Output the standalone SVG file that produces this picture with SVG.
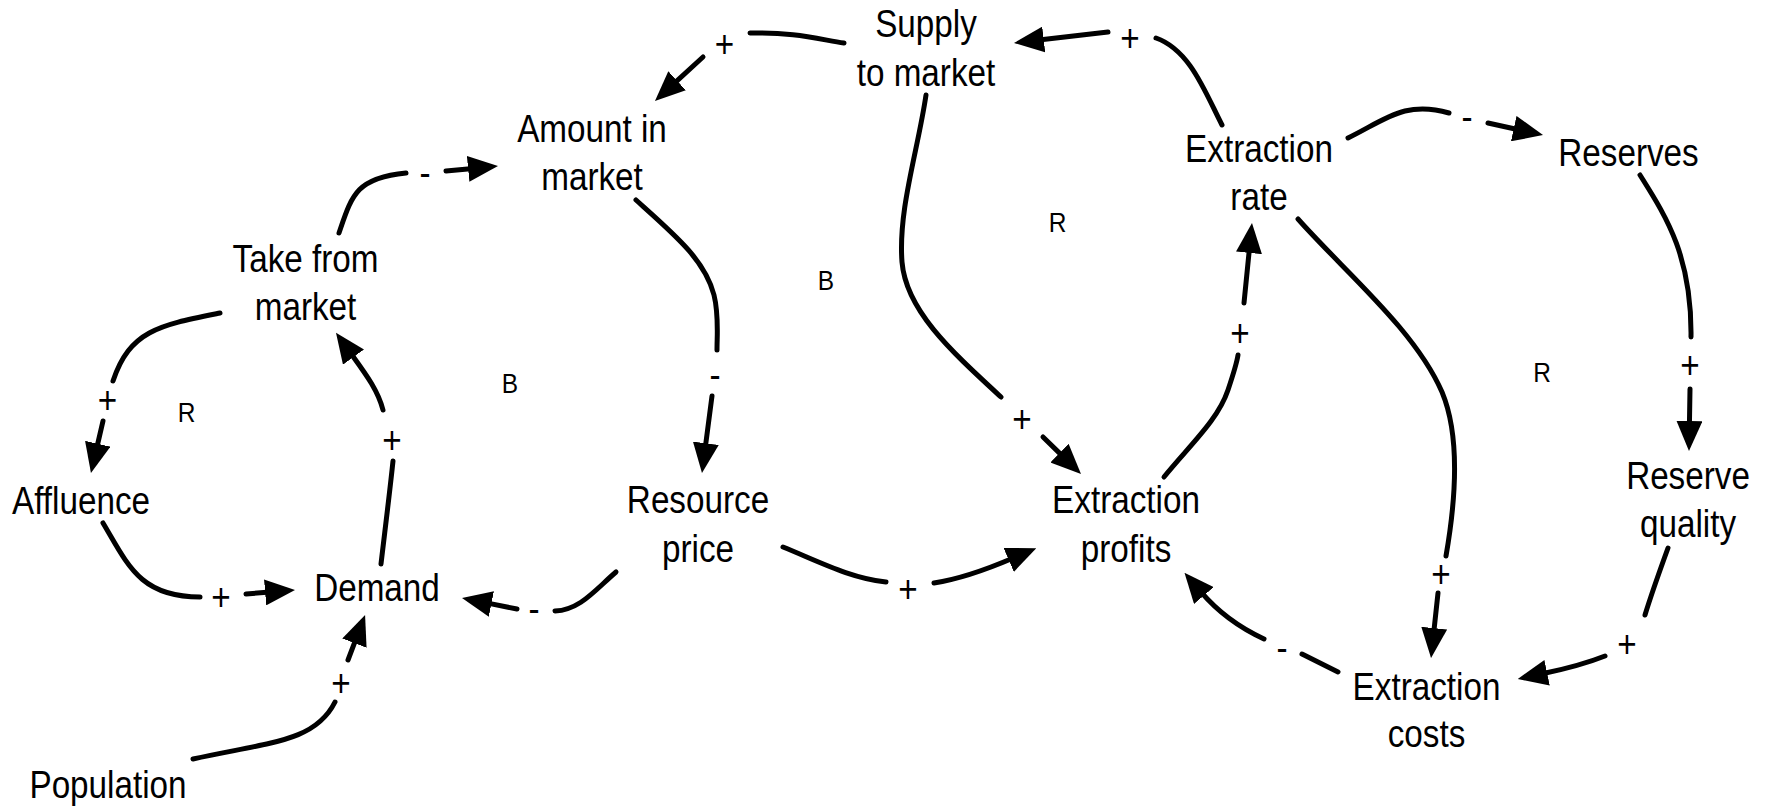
<svg xmlns="http://www.w3.org/2000/svg" width="1770" height="807" viewBox="0 0 1770 807">
  <style>
    .node { font-family: "Liberation Sans", Arial, sans-serif; font-size: 38px; fill: #000; text-anchor: middle; }
    .sign { font-family: "Liberation Sans", Arial, sans-serif; font-size: 38px; fill: #000; text-anchor: middle; }
    .loop { font-family: "Liberation Sans", Arial, sans-serif; font-size: 28px; fill: #000; text-anchor: middle; }
    .link { fill: none; stroke: #000; stroke-width: 5; stroke-linecap: round; stroke-linejoin: round; }
    .arrow { marker-end: url(#head); }
  </style>
  <defs>
    <marker id="head" viewBox="0 0 30 26" refX="5" refY="13" markerWidth="30" markerHeight="26" markerUnits="userSpaceOnUse" orient="auto">
      <path d="M0,0 L30,13 L0,26 Z" fill="#000"/>
    </marker>
  </defs>
  <rect width="1770" height="807" fill="#fff"/>

  <!-- variables -->
  <g id="supply-to-market" transform="translate(926 0) scale(0.875 1)">
    <text class="node"><tspan x="0" y="37">Supply</tspan><tspan x="0" y="86">to market</tspan></text>
  </g>
  <g id="amount-in-market" transform="translate(592 0) scale(0.875 1)">
    <text class="node"><tspan x="0" y="142">Amount in</tspan><tspan x="0" y="190">market</tspan></text>
  </g>
  <g id="take-from-market" transform="translate(305.5 0) scale(0.875 1)">
    <text class="node"><tspan x="0" y="272">Take from</tspan><tspan x="0" y="320">market</tspan></text>
  </g>
  <g id="affluence" transform="translate(81 0) scale(0.875 1)">
    <text class="node" x="0" y="514">Affluence</text>
  </g>
  <g id="demand" transform="translate(377 0) scale(0.875 1)">
    <text class="node" x="0" y="601">Demand</text>
  </g>
  <g id="population" transform="translate(108 0) scale(0.875 1)">
    <text class="node" x="0" y="798">Population</text>
  </g>
  <g id="resource-price" transform="translate(698 0) scale(0.875 1)">
    <text class="node"><tspan x="0" y="513">Resource</tspan><tspan x="0" y="562">price</tspan></text>
  </g>
  <g id="extraction-profits" transform="translate(1126 0) scale(0.875 1)">
    <text class="node"><tspan x="0" y="513">Extraction</tspan><tspan x="0" y="562">profits</tspan></text>
  </g>
  <g id="extraction-rate" transform="translate(1259 0) scale(0.875 1)">
    <text class="node"><tspan x="0" y="162">Extraction</tspan><tspan x="0" y="210">rate</tspan></text>
  </g>
  <g id="reserves" transform="translate(1628.5 0) scale(0.875 1)">
    <text class="node" x="0" y="166">Reserves</text>
  </g>
  <g id="reserve-quality" transform="translate(1688 0) scale(0.875 1)">
    <text class="node"><tspan x="0" y="489">Reserve</tspan><tspan x="0" y="537">quality</tspan></text>
  </g>
  <g id="extraction-costs" transform="translate(1426.5 0) scale(0.875 1)">
    <text class="node"><tspan x="0" y="700">Extraction</tspan><tspan x="0" y="747">costs</tspan></text>
  </g>

  <!-- causal links: each split around its polarity sign -->
  <g id="links">
    <!-- Supply to market -> Amount in market (+) -->
    <path class="link" d="M844,43 C818,39 792,32 750,33"/>
    <path class="link arrow" d="M703,57 L673.4,84.1"/>
    <!-- Extraction rate -> Supply to market (+) -->
    <path class="link" d="M1222,125 C1205,92 1190,50 1156,38"/>
    <path class="link arrow" d="M1108,32 L1038.8,40.1"/>
    <!-- Take from market -> Amount in market (-) -->
    <path class="link" d="M339,233 C352,195 356,178 406,173"/>
    <path class="link arrow" d="M446,171 L473.1,168.4"/>
    <!-- Take from market -> Affluence (+) -->
    <path class="link" d="M220,313 C160,325 130,330 113,381"/>
    <path class="link arrow" d="M103,421 L96.6,448.6"/>
    <!-- Affluence -> Demand (+) -->
    <path class="link" d="M103,523 C128,565 140,597 200,597"/>
    <path class="link arrow" d="M246,594 L270.1,592"/>
    <!-- Demand -> Take from market (+) -->
    <path class="link" d="M381,564 C385,530 390,490 393,461"/>
    <path class="link arrow" d="M383,410 C378,390 365,373 350.6,353"/>
    <!-- Population -> Demand (+) -->
    <path class="link" d="M193,759 C270,742 315,742 335,702"/>
    <path class="link arrow" d="M348,660 L356.2,638.4"/>
    <!-- Resource price -> Demand (-) -->
    <path class="link" d="M616,572 C595,590 580,610 555,611"/>
    <path class="link arrow" d="M517,609 L486.5,602.9"/>
    <!-- Amount in market -> Resource price (-) -->
    <path class="link" d="M636,200 C675,235 705,260 714,295 C719,315 717,335 717,350"/>
    <path class="link arrow" d="M712,396 L705.2,448.2"/>
    <!-- Supply to market -> Extraction profits (+) -->
    <path class="link" d="M926,95 C918,150 898,210 902,262 C906,310 950,350 1001,397"/>
    <path class="link arrow" d="M1043,437 L1063.1,456.6"/>
    <!-- Resource price -> Extraction profits (+) -->
    <path class="link" d="M783,547 C820,562 850,578 886,582"/>
    <path class="link arrow" d="M934,583 C960,579 990,568 1013.3,558"/>
    <!-- Extraction profits -> Extraction rate (+) -->
    <path class="link" d="M1164,477 C1190,445 1218,420 1228,390 C1234,372 1237,362 1238,355"/>
    <path class="link arrow" d="M1244,303 L1249.5,247.9"/>
    <!-- Extraction rate -> Reserves (-) -->
    <path class="link" d="M1348,138 C1385,120 1405,100 1449,113"/>
    <path class="link arrow" d="M1488,123 L1518.6,129.7"/>
    <!-- Reserves -> Reserve quality (+) -->
    <path class="link" d="M1640,175 C1665,215 1692,255 1691,337"/>
    <path class="link arrow" d="M1690,389 L1689.4,426"/>
    <!-- Extraction rate -> Extraction costs (+) -->
    <path class="link" d="M1298,219 C1345,272 1415,330 1442,392 C1462,440 1454,510 1446,556"/>
    <path class="link arrow" d="M1438,593 L1433.7,633.1"/>
    <!-- Reserve quality -> Extraction costs (+) -->
    <path class="link" d="M1668,548 C1660,570 1652,592 1645,615"/>
    <path class="link arrow" d="M1605,656 C1585,664 1565,669 1542.2,673.8"/>
    <!-- Extraction costs -> Extraction profits (-) -->
    <path class="link" d="M1338,672 L1302,654"/>
    <path class="link arrow" d="M1264,639 C1240,628 1218,612 1200.7,591.7"/>

    <!-- polarity signs -->
    <g class="sign">
      <text transform="translate(724.5 57.4) scale(0.875 1)">+</text>
      <text transform="translate(1130 50.9) scale(0.875 1)">+</text>
      <text transform="translate(425 186.3) scale(0.875 1)">-</text>
      <text transform="translate(107.5 413.4) scale(0.875 1)">+</text>
      <text transform="translate(221 610.4) scale(0.875 1)">+</text>
      <text transform="translate(392 453.4) scale(0.875 1)">+</text>
      <text transform="translate(341 696.4) scale(0.875 1)">+</text>
      <text transform="translate(534 622.3) scale(0.875 1)">-</text>
      <text transform="translate(715 388.3) scale(0.875 1)">-</text>
      <text transform="translate(1022 432.4) scale(0.875 1)">+</text>
      <text transform="translate(908 602.4) scale(0.875 1)">+</text>
      <text transform="translate(1240 346.4) scale(0.875 1)">+</text>
      <text transform="translate(1467 130.3) scale(0.875 1)">-</text>
      <text transform="translate(1690 378.4) scale(0.875 1)">+</text>
      <text transform="translate(1441 587.4) scale(0.875 1)">+</text>
      <text transform="translate(1627 657.4) scale(0.875 1)">+</text>
      <text transform="translate(1282 661.3) scale(0.875 1)">-</text>
    </g>
  </g>

  <!-- loop markers -->
  <g id="loops" class="loop">
    <text transform="translate(186.5 422) scale(0.875 1)">R</text>
    <text transform="translate(510 393) scale(0.875 1)">B</text>
    <text transform="translate(826 290) scale(0.875 1)">B</text>
    <text transform="translate(1057.5 232) scale(0.875 1)">R</text>
    <text transform="translate(1542 382) scale(0.875 1)">R</text>
  </g>
</svg>
